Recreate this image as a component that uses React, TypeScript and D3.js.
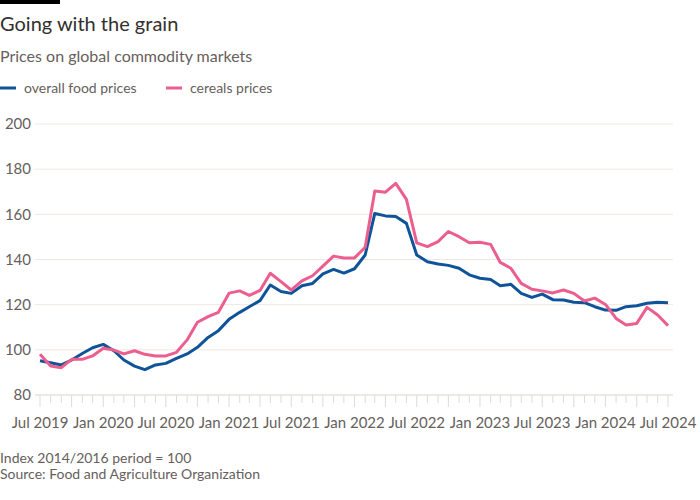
import React from "react";
import * as d3 from "d3";

const months = [
  "2019-07","2019-08","2019-09","2019-10","2019-11","2019-12",
  "2020-01","2020-02","2020-03","2020-04","2020-05","2020-06","2020-07","2020-08","2020-09","2020-10","2020-11","2020-12",
  "2021-01","2021-02","2021-03","2021-04","2021-05","2021-06","2021-07","2021-08","2021-09","2021-10","2021-11","2021-12",
  "2022-01","2022-02","2022-03","2022-04","2022-05","2022-06","2022-07","2022-08","2022-09","2022-10","2022-11","2022-12",
  "2023-01","2023-02","2023-03","2023-04","2023-05","2023-06","2023-07","2023-08","2023-09","2023-10","2023-11","2023-12",
  "2024-01","2024-02","2024-03","2024-04","2024-05","2024-06","2024-07",
];

const foodPrices = [
  95.2, 94.3, 93.3, 95.5, 98.4, 100.9,
  102.4, 99.6, 95.5, 92.8, 91.2, 93.3, 94.0, 96.2, 98.2, 101.1, 105.5, 108.5,
  113.5, 116.6, 119.1, 121.8, 128.7, 125.8, 125.0, 128.4, 129.4, 133.6, 135.6, 134.0,
  135.9, 142.0, 160.4, 159.3, 159.0, 156.0, 142.0, 139.0, 138.0, 137.4, 136.1, 133.2,
  131.7, 131.1, 128.4, 129.0, 125.0, 123.2, 124.7, 122.2, 122.1, 121.1, 120.9, 119.1,
  117.6, 117.5, 119.1, 119.5, 120.6, 121.1, 120.9,
];

const cerealPrices = [
  98.0, 92.8, 92.1, 95.8, 95.8, 97.3,
  100.7, 99.9, 98.2, 99.6, 98.0, 97.3, 97.3, 98.9, 104.4, 112.2, 114.7, 116.6,
  125.1, 126.1, 124.1, 126.3, 133.9, 130.2, 126.5, 130.5, 132.8, 137.1, 141.5, 140.7,
  140.7, 145.4, 170.3, 169.8, 173.7, 166.6, 147.4, 145.7, 147.9, 152.4, 150.1, 147.4,
  147.6, 146.7, 138.7, 136.1, 129.4, 126.8, 126.1, 125.2, 126.5, 125.0, 121.6, 122.9,
  120.1, 113.9, 111.0, 111.7, 118.8, 115.4, 110.7,
];

const yTicks = [80, 100, 120, 140, 160, 180, 200];
const xTickLabels = ["Jul 2019","Jan 2020","Jul 2020","Jan 2021","Jul 2021","Jan 2022","Jul 2022","Jan 2023","Jul 2023","Jan 2024","Jul 2024"];

const seriesNames = ["overall food prices", "cereals prices"];
const colors = ["#0f5499", "#eb5e8d"];

const FONT = "Lato, 'Noto Sans', sans-serif";

export default function App() {
  const parse = d3.timeParse("%Y-%m");
  const dates = months.map((m) => parse(m) as Date);
  const x = d3.scaleTime().domain([dates[0], dates[dates.length - 1]]).range([40, 668]);
  const y = d3.scaleLinear().domain([80, 200]).range([395, 124]);

  const line = d3
    .line<number>()
    .x((_, i) => x(dates[i]))
    .y((v) => y(v));

  const labelDates = xTickLabels.map((s) => d3.timeParse("%b %Y")(s) as Date);

  return (
    <svg
      width={700}
      height={500}
      style={{ position: "absolute", left: 0, top: 0, background: "#fff" }}
      fontFamily={FONT}
    >
      <rect x={0} y={0} width={60} height={4} fill="#000" />
      <text x={0} y={31} fontSize={20} fill="#33302e">Going with the grain</text>
      <text x={0} y={62} fontSize={16} fill="#66605c">Prices on global commodity markets</text>

      {seriesNames.map((name, i) => {
        const lx = i === 0 ? 0 : 166;
        return (
          <g key={name}>
            <line x1={lx} x2={lx + 16} y1={88} y2={88} stroke={colors[i]} strokeWidth={3} />
            <text x={lx + 24} y={93} fontSize={14} fill="#66605c">{name}</text>
          </g>
        );
      })}

      {yTicks.map((t) => (
        <g key={t}>
          <line
            x1={35}
            x2={673}
            y1={y(t)}
            y2={y(t)}
            stroke={t === 80 ? "#ddd3cb" : "#efe8e2"}
            strokeWidth={1}
          />
          <text x={31} y={y(t)} dy="0.35em" textAnchor="end" fontSize={15} fill="#66605c">
            {t}
          </text>
        </g>
      ))}

      {dates.map((d, i) => {
        const long = d.getMonth() % 3 === 0;
        return (
          <line
            key={i}
            x1={x(d)}
            x2={x(d)}
            y1={395}
            y2={long ? 407 : 403}
            stroke="#e2dad3"
            strokeWidth={1}
          />
        );
      })}

      {labelDates.map((d, i) => (
        <text key={i} x={x(d)} y={428} textAnchor="middle" fontSize={15} fill="#66605c">
          {xTickLabels[i]}
        </text>
      ))}

      <path d={line(foodPrices) || ""} fill="none" stroke={colors[0]} strokeWidth={3} strokeLinejoin="round" />
      <path d={line(cerealPrices) || ""} fill="none" stroke={colors[1]} strokeWidth={3} strokeLinejoin="round" />

      <text x={0} y={463} fontSize={14} fill="#66605c">Index 2014/2016 period = 100</text>
      <text x={0} y={479} fontSize={14} fill="#66605c">Source: Food and Agriculture Organization</text>
    </svg>
  );
}
